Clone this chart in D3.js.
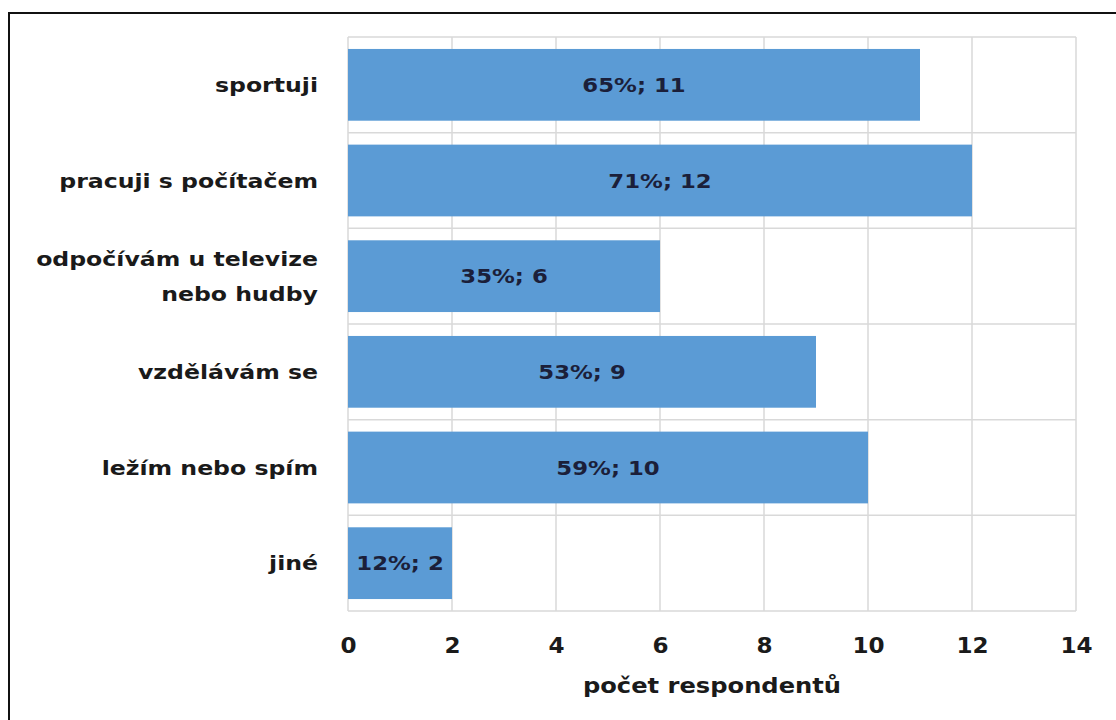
<!DOCTYPE html>
<html>
<head>
<meta charset="utf-8">
<script src="https://cdn.jsdelivr.net/npm/d3@7"></script>
<style>
  body { margin: 0; background: #fff; }
  text { font-family: "DejaVu Sans", Verdana, sans-serif; font-weight: bold; }
</style>
</head>
<body>
<svg id="chart" width="1116" height="720"></svg>
<script>
// data
let categories = ['sportuji', 'pracuji s počítačem', 'odpočívám u televize|nebo hudby', 'vzdělávám se', 'ležím nebo spím', 'jiné'];
let counts = [11, 12, 6, 9, 10, 2];
let percents = [65, 71, 35, 53, 59, 12];
let xTicks = [0, 2, 4, 6, 8, 10, 12, 14];
let axisTitle = 'počet respondentů';

let svg = d3.select('#chart');
let plotLeft = 348, plotRight = 1076, plotTop = 37, plotBottom = 611;
let stretch = 1.18; // the original picture is widened, so the text is too

let x = d3.scaleLinear().domain([0, 14]).range([plotLeft, plotRight]);
let y = d3.scaleBand().domain(categories).range([plotTop, plotBottom]).paddingInner(0.25).paddingOuter(0.125);

// outer frame (only top and left edges show)
svg.append('path')
  .attr('d', 'M9,720 V13 H1116')
  .attr('fill', 'none')
  .attr('stroke', '#111')
  .attr('stroke-width', 2);

// grid
let grid = svg.append('g').attr('stroke', '#d9d9d9').attr('stroke-width', 1.5);
grid.selectAll('line.v')
  .data(xTicks)
  .enter()
  .append('line')
  .attr('x1', d => x(d)).attr('x2', d => x(d))
  .attr('y1', plotTop).attr('y2', plotBottom);
let rowEdges = categories.map(c => y(c) - y.step() * y.paddingInner() / 2).concat([plotBottom]);
grid.selectAll('line.h')
  .data(rowEdges)
  .enter()
  .append('line')
  .attr('x1', plotLeft).attr('x2', plotRight)
  .attr('y1', d => d).attr('y2', d => d);

// bars
svg.selectAll('rect.bar')
  .data(categories)
  .enter()
  .append('rect')
  .attr('class', 'bar')
  .attr('x', x(0))
  .attr('y', d => y(d))
  .attr('width', (d, i) => x(counts[i]) - x(0))
  .attr('height', y.bandwidth())
  .attr('fill', '#5b9bd5');

// value labels
svg.selectAll('g.val')
  .data(categories)
  .enter()
  .append('g')
  .attr('transform', (d, i) => 'translate(' + (x(0) + x(counts[i])) / 2 + ',' + (y(d) + y.bandwidth() / 2) + ') scale(1.14,1)')
  .append('text')
  .attr('dy', '0.36em')
  .attr('text-anchor', 'middle')
  .attr('font-size', 20)
  .attr('fill', '#1b1f3a')
  .text((d, i) => percents[i] + '%; ' + counts[i]);

// category labels
let cat = svg.selectAll('g.cat')
  .data(categories)
  .enter()
  .append('g')
  .attr('transform', d => 'translate(318,' + (y(d) + y.bandwidth() / 2) + ') scale(' + stretch + ',1)')
  .append('text')
  .attr('text-anchor', 'end')
  .attr('font-size', 20)
  .attr('fill', '#1a1a1a');
cat.each(function (d) {
  let lines = d.split('|');
  let t = d3.select(this);
  lines.forEach((l, k) => {
    t.append('tspan')
      .attr('x', 0)
      .attr('y', (k - (lines.length - 1) / 2) * 35)
      .attr('dy', '0.36em')
      .text(l);
  });
});

// x axis tick labels
let xAxis = d3.axisBottom(x).tickValues(xTicks).tickSize(0).tickPadding(0);
let ax = svg.append('g').attr('transform', 'translate(0,' + 645 + ')').call(xAxis);
ax.select('.domain').remove();
ax.selectAll('.tick text')
  .attr('y', 0)
  .attr('dy', '0.36em')
  .attr('font-size', 22)
  .attr('transform', 'scale(1.05,1)')
  .attr('fill', '#1a1a1a')
  .style('font-family', '"DejaVu Sans", Verdana, sans-serif')
  .style('font-weight', 'bold');

// axis title
svg.append('g')
  .attr('transform', 'translate(' + (plotLeft + plotRight) / 2 + ',686) scale(' + stretch + ',1)')
  .append('text')
  .attr('dy', '0.36em')
  .attr('text-anchor', 'middle')
  .attr('font-size', 20.5)
  .attr('fill', '#1a1a1a')
  .text(axisTitle);
</script>
</body>
</html>
